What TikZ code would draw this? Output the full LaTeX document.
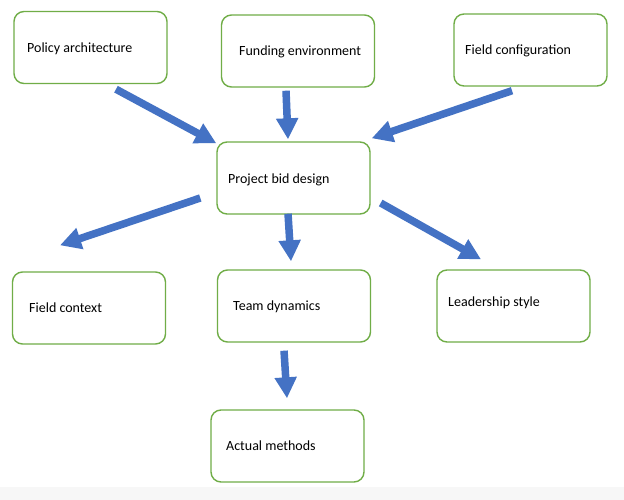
\documentclass[tikz,border=0pt]{standalone}
\usepackage{fontspec}
\setmainfont{Carlito}
\usetikzlibrary{arrows.meta,calc}
\definecolor{boxgreen}{HTML}{70AD47}
\definecolor{flowblue}{HTML}{4472C4}
\definecolor{stripgray}{HTML}{F7F7F7}
\tikzset{
  box/.style={draw=boxgreen, line width=1.4pt, rounded corners=10pt, fill=white,
    minimum width=153pt, minimum height=72pt, inner sep=0pt},
  lbl/.style={anchor=west, inner sep=0pt, font=\fontsize{14}{16}\selectfont, text=black},
  flow/.style={draw=flowblue, line width=7.5pt,
    -{Triangle[width=21pt,length=21pt]}, fill=flowblue}
}
\begin{document}
\begin{tikzpicture}[x=1pt,y=-1pt]
\useasboundingbox (0,0) rectangle (624,500);
\fill[white] (0,0) rectangle (624,487);
\fill[stripgray] (0,487) rectangle (624,500);

% boxes
\node[box] (pa) at (90.5,47.5) {};
\node[box] (fe) at (298,51) {};
\node[box] (fc) at (530.5,50) {};
\node[box] (pb) at (293.5,178) {};
\node[box] (fx) at (89,308) {};
\node[box] (td) at (294,306) {};
\node[box] (ls) at (513.5,306) {};
\node[box] (am) at (287.5,446) {};

% labels
\node[lbl] (pat) at (27,48.5) {Policy architecture};
\node[lbl] (fet) at (239,51.5) {Funding environment};
\node[lbl] (fct) at (465,50.5) {Field configuration};
\node[lbl] (pbt) at (228,180) {Project bid design};
\node[lbl] (fxt) at (29,307.5) {Field context};
\node[lbl] (tdt) at (233,306.5) {Team dynamics};
\node[lbl] (lst) at (448,303) {Leadership style};
\node[lbl] (amt) at (226,446) {Actual methods};

% arrows
\draw[flow] ($(pa.south)+(25.5,5)$) -- ($(pb.north west)+(0,2)$);
\draw[flow] ($(fe.south)+(-12,3)$) -- ($(pb.north)+(-5.5,-2)$);
\draw[flow] ($(fc.south)+(-18.5,4)$) -- ($(pb.north east)+(1,-3)$);
\draw[flow] ($(pb.west)+(-16,20)$) -- ($(fx.north)+(-29,-26)$);
\draw[flow] ($(pb.south)+(-5.5,-1)$) -- ($(td.north)+(-3,-8)$);
\draw[flow] ($(pb.east)+(10,25)$) -- ($(ls.north)+(-32.5,-10)$);
\draw[flow] ($(td.south)+(-10,8)$) -- ($(am.north)+(-0.5,-11)$);
\end{tikzpicture}
\end{document}
